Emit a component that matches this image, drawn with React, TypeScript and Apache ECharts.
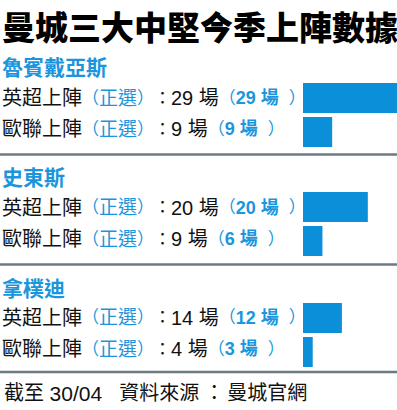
import React, { useEffect, useRef } from "react";
import * as echarts from "echarts";

const title = "曼城三大中堅今季上陣數據";
const players = ["魯賓戴亞斯", "史東斯", "拿樸迪"];
const competitions = ["英超上陣", "歐聯上陣"];
const eplApps = [29, 20, 14];
const eplStarts = [29, 20, 12];
const uclApps = [9, 9, 4];
const uclStarts = [9, 6, 3];
const startLabel = "正選";
const unit = "場";
const footDate = "30/04";
const footSource = "曼城官網";

const BLUE = "#0a8fd8";
const TEXT_BLUE = "#1b95dc";
const FAM = "'Liberation Sans', 'Noto Sans CJK TC', sans-serif";

const gridTops = [81, 190, 301];
const headerY = [66, 176, 287];
const rowY = [
  [98, 129],
  [207.5, 239],
  [317.5, 349],
];
const sepY = [154.5, 264.5, 372];

export default function App() {
  const ref = useRef<HTMLDivElement>(null);
  useEffect(() => {
    if (!ref.current) return;
    const chart = echarts.init(ref.current, null, { renderer: "svg" });

    const rich = {
      a: { fontSize: 20, fontFamily: FAM, fill: "#111", verticalAlign: "middle" },
      lp: { fontSize: 17, fontFamily: FAM, fill: TEXT_BLUE, verticalAlign: "middle" },
      p: { fontSize: 19, fontFamily: FAM, fill: TEXT_BLUE, verticalAlign: "middle" },
      rp: { fontSize: 17, fontFamily: FAM, fill: TEXT_BLUE, verticalAlign: "middle" },
      c: { fontSize: 17, fontFamily: FAM, fill: "#111", verticalAlign: "middle" },
      n: { fontSize: 20, fontFamily: FAM, fill: "#111", verticalAlign: "middle" },
      bn: { fontSize: 18, fontFamily: FAM, fontWeight: "bold", fill: TEXT_BLUE, verticalAlign: "middle" },
      q: { fontSize: 17, fontFamily: FAM, fill: TEXT_BLUE, verticalAlign: "middle", padding: [0, 0, 0, 10] },
    };

    const graphics: any[] = [
      {
        type: "text",
        x: 2,
        y: 26,
        style: {
          text: title,
          font: `900 33px 'Noto Sans CJK TC', sans-serif`,
          fill: "#000",
          verticalAlign: "middle",
        },
      },
    ];

    const grids: any[] = [];
    const xAxes: any[] = [];
    const yAxes: any[] = [];
    const series: any[] = [];

    players.forEach((name, i) => {
      graphics.push({
        type: "text",
        x: 2,
        y: headerY[i],
        style: {
          text: name,
          font: `bold 21px 'Noto Sans CJK TC', sans-serif`,
          fill: TEXT_BLUE,
          verticalAlign: "middle",
        },
      });
      const apps = [eplApps[i], uclApps[i]];
      const starts = [eplStarts[i], uclStarts[i]];
      competitions.forEach((comp, j) => {
        graphics.push({
          type: "text",
          x: 2,
          y: rowY[i][j],
          style: {
            text: `{a|${comp}}{lp|（}{p|${startLabel}}{rp|）}{c|：}{n|${apps[j]} ${unit}}{lp|（}{bn|${starts[j]} ${unit}}{q|）}`,
            rich,
            verticalAlign: "middle",
          },
        });
      });
      graphics.push({
        type: "line",
        shape: { x1: 0, y1: sepY[i], x2: 397, y2: sepY[i] },
        style: { stroke: "#6c7a82", lineWidth: 2.5 },
      });

      grids.push({ left: 303, width: 94, top: gridTops[i], height: 68 });
      xAxes.push({ gridIndex: i, type: "value", min: 0, max: 29, show: false });
      yAxes.push({ gridIndex: i, type: "category", data: competitions, inverse: true, show: false });
      series.push({
        type: "bar",
        xAxisIndex: i,
        yAxisIndex: i,
        data: starts,
        barWidth: 30,
        itemStyle: { color: BLUE },
        silent: true,
      });
    });

    graphics.push({
      type: "text",
      x: 4,
      y: 393,
      style: {
        text: `{a|截至 }{n|${footDate}}{s|  資料來源}{c|：}{a|${footSource}}`,
        rich: {
          a: { fontSize: 20, fontFamily: FAM, fill: "#111", verticalAlign: "middle" },
          n: { fontSize: 21, fontFamily: FAM, fill: "#111", verticalAlign: "middle" },
          s: { fontSize: 20, fontFamily: FAM, fill: "#111", verticalAlign: "middle", padding: [0, 0, 0, 6] },
          c: { fontSize: 20, fontFamily: FAM, fill: "#111", verticalAlign: "middle", padding: [0, 3, 0, 5] },
        },
        verticalAlign: "middle",
      },
    });

    chart.setOption({
      animation: false,
      backgroundColor: "#fff",
      grid: grids,
      xAxis: xAxes,
      yAxis: yAxes,
      series,
      graphic: { elements: graphics },
    });
    return () => chart.dispose();
  }, []);

  return (
    <div
      ref={ref}
      style={{ position: "fixed", left: 0, top: 0, width: 397, height: 410 }}
    />
  );
}
